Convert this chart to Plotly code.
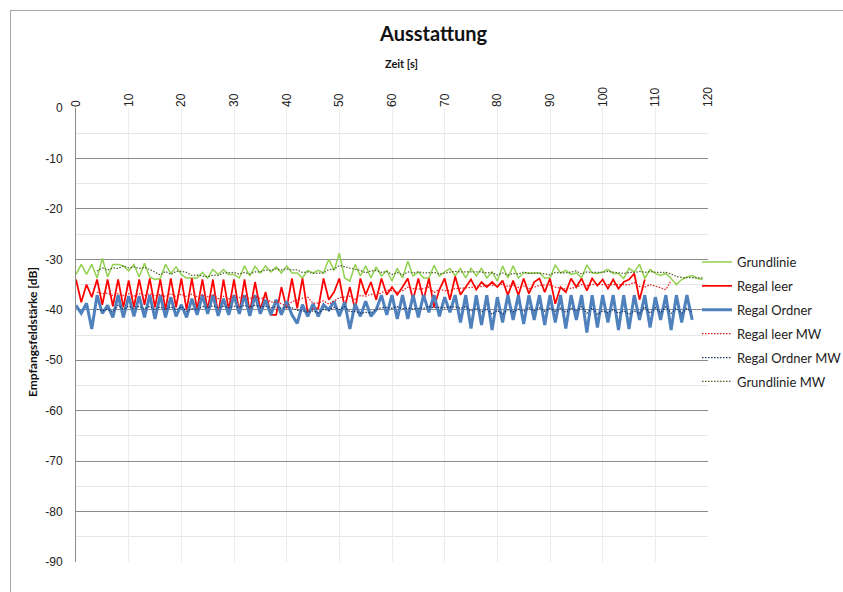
import plotly.graph_objects as go

# time axis in seconds
t_grund = list(range(0, 120))
t_leer = list(range(0, 109))
t_ordner = list(range(0, 118))
t_grund_mw = list(range(4, 120))
t_leer_mw = list(range(4, 114))
t_ordner_mw = list(range(4, 118))

grundlinie = [
    -33.0, -31.0, -33.0, -31.0, -33.7, -29.8, -33.5, -31.0, -31.0, -31.3,
    -32.3, -31.0, -33.5, -30.8, -33.5, -34.0, -33.8, -31.0, -32.8, -31.5,
    -33.0, -33.7, -33.7, -33.7, -32.6, -33.7, -32.0, -33.0, -32.0, -33.0,
    -33.0, -33.7, -31.3, -33.3, -31.4, -32.7, -31.3, -32.5, -31.5, -32.7,
    -31.3, -32.7, -32.7, -33.7, -32.2, -32.7, -32.2, -32.7, -30.0, -32.2,
    -28.8, -33.7, -34.3, -31.0, -33.3, -31.3, -33.7, -31.5, -33.3, -32.2,
    -34.3, -31.8, -33.7, -30.4, -33.3, -32.5, -33.7, -33.7, -31.2, -33.3,
    -32.5, -31.8, -33.3, -31.8, -33.7, -31.8, -33.3, -31.8, -33.7, -32.5,
    -34.3, -31.3, -33.7, -31.3, -33.7, -32.7, -32.7, -32.7, -32.7, -33.7,
    -33.7, -31.1, -32.7, -32.2, -33.0, -32.7, -33.7, -31.1, -32.7, -32.8,
    -32.5, -32.0, -32.8, -32.8, -33.8, -31.8, -32.5, -31.0, -33.8, -32.0,
    -32.8, -33.2, -32.8, -33.8, -35.0, -34.0, -33.5, -33.2, -33.8, -34.0,
]

regal_leer = [
    -34.0, -38.5, -35.0, -37.5, -34.0, -39.0, -34.0, -39.3, -34.0, -39.5,
    -34.2, -39.5, -34.0, -39.0, -33.8, -39.5, -34.0, -40.0, -33.8, -39.5,
    -33.8, -40.0, -33.8, -40.0, -34.0, -40.0, -34.0, -41.0, -34.0, -40.0,
    -34.0, -40.5, -34.0, -40.5, -34.5, -40.0, -36.5, -41.0, -41.0, -35.5,
    -39.7, -33.8, -39.7, -33.8, -40.5, -39.7, -39.7, -33.8, -38.0, -36.5,
    -33.8, -39.5, -35.5, -40.0, -33.8, -37.0, -34.5, -38.0, -33.8, -37.0,
    -35.5, -37.0, -35.5, -33.8, -38.0, -33.8, -38.0, -33.8, -39.5, -36.0,
    -33.8, -38.0, -33.4, -37.0, -35.5, -34.0, -36.0, -34.5, -35.5, -34.5,
    -35.5, -34.2, -37.1, -34.2, -37.1, -33.8, -36.8, -34.5, -33.8, -36.5,
    -33.8, -38.8, -35.5, -36.5, -33.8, -35.5, -33.8, -36.2, -33.8, -35.2,
    -34.0, -35.8, -34.0, -35.8, -34.5, -34.0, -32.8, -38.0, -34.0,
]

regal_ordner = [
    -39.1, -40.7, -38.7, -43.8, -37.1, -40.7, -39.1, -41.5, -37.1, -41.5,
    -37.3, -41.3, -37.3, -41.5, -37.1, -41.8, -37.1, -41.5, -37.5, -41.3,
    -39.0, -41.5, -37.8, -41.0, -37.1, -40.8, -37.1, -41.2, -37.8, -41.0,
    -37.1, -40.8, -37.1, -41.2, -37.1, -40.8, -38.0, -41.0, -38.0, -41.0,
    -38.3, -41.0, -42.7, -39.0, -41.3, -38.8, -41.3, -39.0, -40.0, -38.3,
    -41.3, -38.5, -43.8, -38.8, -41.3, -38.3, -41.3, -40.0, -37.1, -41.0,
    -37.1, -41.8, -37.1, -41.8, -37.1, -41.5, -37.1, -40.5, -37.1, -41.3,
    -37.5, -40.5, -37.1, -42.5, -37.1, -43.7, -37.1, -43.0, -37.1, -44.0,
    -37.5, -42.5, -37.1, -42.0, -37.1, -42.8, -37.1, -42.0, -37.1, -43.0,
    -37.1, -42.5, -37.1, -43.7, -37.1, -42.0, -37.1, -44.5, -37.1, -43.5,
    -37.1, -42.5, -37.1, -44.0, -37.1, -43.8, -37.1, -42.0, -37.1, -43.5,
    -37.5, -42.0, -37.1, -44.0, -37.1, -42.5, -37.1, -42.0,
]

grundlinie_mw = [
    -32.3, -31.7, -32.1, -31.7, -31.8, -31.3, -31.7, -31.5, -31.8, -31.6,
    -32.0, -32.5, -33.1, -32.4, -33.0, -32.4, -32.4, -32.6, -33.2, -33.1,
    -33.3, -33.5, -33.1, -33.2, -32.7, -32.7, -32.6, -32.9, -32.6, -32.9,
    -32.5, -32.5, -32.1, -32.2, -31.9, -32.1, -31.9, -32.1, -32.1, -32.6,
    -32.5, -32.8, -32.7, -32.7, -32.0, -32.0, -31.2, -31.5, -31.8, -32.0,
    -32.2, -32.7, -32.3, -32.2, -32.6, -32.4, -33.0, -32.6, -33.1, -32.5,
    -32.7, -32.5, -32.7, -32.7, -32.6, -32.9, -32.7, -32.5, -32.4, -32.5,
    -32.5, -32.5, -32.6, -32.5, -32.7, -32.6, -33.1, -32.7, -33.1, -32.8,
    -32.9, -32.5, -32.8, -32.7, -32.7, -32.9, -33.1, -32.6, -32.6, -32.7,
    -32.5, -32.3, -32.9, -32.5, -32.6, -32.6, -32.6, -32.4, -32.5, -32.6,
    -32.8, -32.6, -32.6, -32.4, -32.6, -32.4, -32.6, -32.6, -32.6, -32.9,
    -33.4, -33.6, -33.6, -33.7, -33.7, -33.7,
]

regal_leer_mw = [
    -36.5, -36.8, -36.7, -37.2, -36.8, -37.2, -36.8, -37.3, -36.8, -37.2,
    -36.8, -37.3, -36.9, -37.4, -36.8, -37.4, -36.9, -37.4, -36.9, -37.4,
    -37.0, -37.4, -37.0, -37.8, -37.3, -37.8, -37.2, -37.6, -37.3, -37.8,
    -37.4, -37.8, -37.5, -38.5, -38.4, -38.8, -39.2, -38.4, -38.0, -37.7,
    -37.5, -38.7, -38.7, -38.2, -38.9, -38.3, -37.6, -37.5, -37.3, -37.9,
    -37.2, -37.3, -36.9, -37.1, -36.6, -36.1, -36.2, -36.5, -36.2, -35.5,
    -35.8, -35.9, -35.8, -35.5, -36.6, -35.9, -36.2, -36.2, -35.8, -35.7,
    -35.6, -35.6, -35.3, -35.4, -35.1, -35.1, -35.2, -34.9, -35.4, -35.1,
    -35.6, -35.3, -35.8, -35.5, -35.2, -35.1, -35.1, -35.5, -35.7, -35.9,
    -35.7, -35.6, -35.0, -35.2, -35.0, -34.9, -35.0, -35.0, -35.0, -35.0,
    -35.0, -35.0, -34.6, -35.4, -35.5, -35.0, -35.3, -35.6, -36.0, -34.2,
]

regal_ordner_mw = [
    -39.9, -40.2, -39.9, -40.4, -39.1, -39.9, -39.3, -39.8, -39.3, -39.9,
    -39.3, -40.0, -39.4, -40.0, -39.4, -40.0, -39.4, -40.3, -39.8, -40.0,
    -39.3, -39.6, -39.2, -39.6, -39.3, -39.6, -39.3, -39.5, -39.1, -39.5,
    -39.1, -39.4, -39.3, -39.6, -39.4, -39.7, -39.5, -39.6, -40.1, -40.2,
    -40.5, -40.2, -40.6, -39.9, -40.1, -39.5, -40.0, -39.4, -40.4, -40.3,
    -40.7, -40.5, -40.6, -39.9, -39.6, -39.5, -39.7, -39.4, -39.8, -39.7,
    -39.8, -39.7, -39.7, -39.3, -39.6, -39.5, -39.6, -39.4, -39.4, -39.7,
    -39.4, -40.3, -39.7, -40.4, -39.8, -40.9, -40.1, -40.9, -40.0, -40.4,
    -39.9, -40.3, -39.6, -40.2, -39.6, -40.3, -39.7, -40.3, -39.7, -40.5,
    -39.6, -40.3, -39.4, -40.7, -39.6, -40.9, -40.2, -40.6, -39.9, -40.7,
    -40.2, -40.9, -40.2, -40.8, -39.4, -40.7, -39.6, -40.6, -39.4, -40.7,
    -39.7, -40.7, -39.7, -40.5,
]

x_ticks = [0, 10, 20, 30, 40, 50, 60, 70, 80, 90, 100, 110, 120]
y_ticks = [0, -10, -20, -30, -40, -50, -60, -70, -80, -90]

DOTS = "1.5px,1.5px"
series = [
    ("Grundlinie", t_grund, grundlinie, dict(color="#92d050", width=1.5)),
    ("Regal leer", t_leer, regal_leer, dict(color="#ff0000", width=1.75)),
    ("Regal Ordner", t_ordner, regal_ordner, dict(color="#4f81bd", width=3)),
    ("Regal leer MW", t_leer_mw, regal_leer_mw, dict(color="#e31a1c", width=1.25, dash=DOTS)),
    ("Regal Ordner MW", t_ordner_mw, regal_ordner_mw, dict(color="#1f3864", width=1.25, dash=DOTS)),
    ("Grundlinie MW", t_grund_mw, grundlinie_mw, dict(color="#4f6228", width=1.25, dash=DOTS)),
]

fig = go.Figure()
for i, (name, xs, ys, line) in enumerate(series):
    fig.add_trace(go.Scatter(x=xs, y=ys, mode="lines", name=name, line=line,
                             legendgroup=f"g{i}"))

# plot area in page pixels: x 76..708, y 108..562
L, R, T, B = 76, 708, 108, 562
W, H = 843, 592
pw, ph = R - L, B - T

def px(xp):
    return (xp - L) / pw

def py(yp):
    return (B - yp) / ph

label_font = dict(family="Lato, Open Sans, sans-serif", color="#111")

fig.update_layout(
    width=W, height=H,
    margin=dict(l=L, r=W - R, t=T, b=H - B, autoexpand=False),
    paper_bgcolor="white", plot_bgcolor="white",
    font=dict(family="Liberation Sans, Arial, sans-serif", size=12, color="#222"),
    showlegend=True,
    legend=dict(x=px(697), y=py(247), xanchor="left", yanchor="top",
                traceorder="grouped", tracegroupgap=4,
                font=dict(family="Lato, Open Sans, sans-serif", size=13, color="#222"),
                bgcolor="rgba(0,0,0,0)", itemwidth=30),
    xaxis=dict(range=[0, 120], side="top", tickmode="array", tickvals=x_ticks,
               ticktext=[str(v) for v in x_ticks], tickangle=-90,
               showgrid=True, gridcolor="#ececec", gridwidth=1,
               zeroline=False, showline=False, ticks="",
               tickfont=dict(size=12, color="#222")),
    yaxis=dict(range=[-90, 0], tickmode="array", tickvals=y_ticks,
               ticktext=[str(v) for v in y_ticks], ticklabelstandoff=10,
               showgrid=True, gridcolor="#8c8c8c", gridwidth=1,
               minor=dict(dtick=5, tick0=0, showgrid=True, gridcolor="#e6e6e6"),
               zeroline=False, showline=True, linecolor="#8c8c8c", linewidth=1,
               ticks="", tickfont=dict(size=12, color="#222")),
    annotations=[
        dict(text="<b>Ausstattung</b>", x=px(433), y=py(33), xref="paper", yref="paper",
             xanchor="center", yanchor="middle", showarrow=False,
             font=dict(size=20, **label_font)),
        dict(text="<b>Zeit [s]</b>", x=px(401), y=py(63), xref="paper", yref="paper",
             xanchor="center", yanchor="middle", showarrow=False,
             font=dict(size=11, **label_font)),
        dict(text="<b>Empfangsfeldstärke [dB]</b>", x=px(32), y=py(332), xref="paper", yref="paper",
             xanchor="center", yanchor="middle", showarrow=False, textangle=-90,
             font=dict(size=12, **label_font)),
    ],
    shapes=[
        dict(type="line", xref="paper", yref="paper", x0=px(10), x1=px(850), y0=py(10.5), y1=py(10.5),
             line=dict(color="#a6a6a6", width=1)),
        dict(type="line", xref="paper", yref="paper", x0=px(10.5), x1=px(10.5), y0=py(10), y1=py(600),
             line=dict(color="#a6a6a6", width=1)),
    ],
)

fig.write_html("out.html")
